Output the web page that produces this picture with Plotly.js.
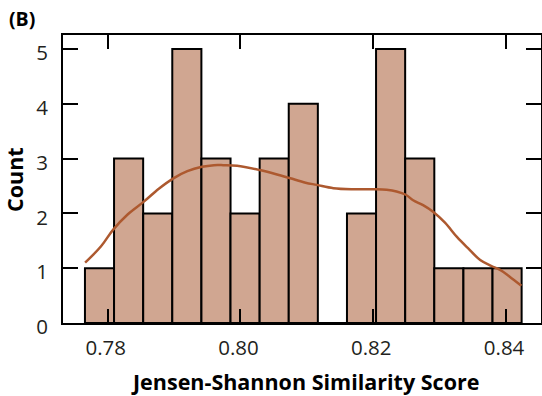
<!DOCTYPE html>
<html>
<head>
<meta charset="utf-8">
<script src="https://cdn.plot.ly/plotly-3.0.1.min.js"></script>
<style>html,body{margin:0;padding:0;background:#fff}</style>
</head>
<body>
<div id="chart" style="width:542px;height:396px"></div>
<script>
// Histogram bins (centers) and counts
var binCenters = [0.77877, 0.78315, 0.78754, 0.79192, 0.79631, 0.80069, 0.80508, 0.80946,
                  0.81384, 0.81823, 0.82261, 0.82700, 0.83138, 0.83577, 0.84015];
var counts = [1, 3, 2, 5, 3, 2, 3, 4, 0, 2, 5, 3, 1, 1, 1];
var binWidth = 0.004384;

// Density curve (scaled to counts)
var kdeX = [0.7766, 0.7790, 0.7808, 0.7830, 0.7854, 0.7877, 0.7899, 0.7920, 0.7942, 0.7960, 0.7974, 0.7995,
            0.8029, 0.8055, 0.8075, 0.8098, 0.8115, 0.8140, 0.8170, 0.8203, 0.8220, 0.8235, 0.8249,
            0.8260, 0.8275, 0.8290, 0.8308, 0.8326, 0.8343, 0.8361, 0.8378, 0.8391, 0.8405, 0.8423];
var kdeY = [1.10, 1.40, 1.70, 1.98, 2.21, 2.45, 2.64, 2.77, 2.85, 2.88, 2.88, 2.87,
            2.79, 2.71, 2.64, 2.56, 2.52, 2.46, 2.44, 2.44, 2.43, 2.40, 2.34,
            2.24, 2.15, 2.03, 1.83, 1.57, 1.36, 1.15, 1.04, 0.97, 0.85, 0.68];

var xTicks = [0.78, 0.80, 0.82, 0.84];
var xTickText = ['0.78', '0.80', '0.82', '0.84'];
var yTicks = [0, 1, 2, 3, 4, 5];

var font = 'Open Sans, Noto Sans, sans-serif';

var traces = [
  {
    type: 'bar',
    x: binCenters,
    y: counts,
    width: binWidth,
    marker: {color: '#d0a691', line: {color: '#000', width: 2}},
    hoverinfo: 'skip'
  },
  {
    type: 'scatter',
    mode: 'lines',
    x: kdeX,
    y: kdeY,
    line: {color: '#ad592f', width: 2.5, shape: 'spline', smoothing: 1},
    hoverinfo: 'skip'
  }
];

var layout = {
  width: 542,
  height: 396,
  margin: {l: 63, r: 1, t: 35, b: 73, pad: 0},
  paper_bgcolor: '#fff',
  plot_bgcolor: '#fff',
  showlegend: false,
  bargap: 0,
  xaxis: {
    range: [0.77327, 0.84526],
    tickvals: xTicks,
    ticktext: xTickText,
    ticks: 'inside',
    ticklen: 14,
    tickwidth: 2,
    tickcolor: '#000',
    showline: true,
    linecolor: '#000',
    linewidth: 2,
    mirror: 'allticks',
    showgrid: false,
    zeroline: false,
    ticklabelshift: -2,
    ticklabelstandoff: 5,
    tickfont: {family: font, size: 20.5, color: '#231f20'}
  },
  yaxis: {
    range: [0, 5.255],
    tickvals: yTicks,
    ticks: 'inside',
    ticklen: 15,
    tickwidth: 2,
    tickcolor: '#000',
    showline: true,
    linecolor: '#000',
    linewidth: 2,
    mirror: 'allticks',
    showgrid: false,
    zeroline: false,
    ticklabelshift: 4,
    ticklabelstandoff: 9,
    tickfont: {family: font, size: 20.5, color: '#231f20'}
  },
  annotations: [
    {text: '<b>(B)</b>', xref: 'paper', yref: 'paper', x: -0.117, y: 1.059,
     xanchor: 'left', yanchor: 'middle', showarrow: false,
     font: {family: font, size: 19.5, color: '#000'}},
    {text: '<b>Jensen-Shannon Similarity Score</b>', xref: 'paper', yref: 'paper',
     x: 0.506, y: -0.2014, xanchor: 'center', yanchor: 'middle', showarrow: false,
     font: {family: font, size: 21.5, color: '#000'}},
    {text: '<b>Count</b>', xref: 'paper', yref: 'paper', textangle: -90,
     x: -0.1025, y: 0.4965, xanchor: 'center', yanchor: 'middle', showarrow: false,
     font: {family: font, size: 21.5, color: '#000'}}
  ]
};

Plotly.newPlot('chart', traces, layout, {displayModeBar: false, staticPlot: true});
</script>
</body>
</html>
